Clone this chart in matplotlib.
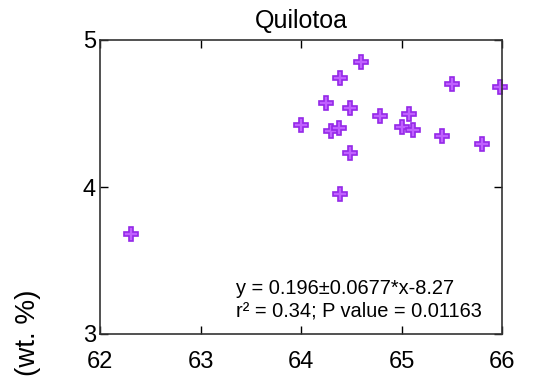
import matplotlib.pyplot as plt

plt.rcParams['font.family'] = ['Liberation Sans', 'DejaVu Sans']

# SiO2 vs K2O, Quilotoa samples
sio2 = [62.31, 64.0, 64.25, 64.30, 64.38, 64.39, 64.49, 64.49, 64.60, 64.79,
        65.0, 65.07, 65.11, 65.40, 65.50, 65.80, 65.98, 64.39]
k2o = [3.68, 4.42, 4.57, 4.38, 4.40, 4.74, 4.54, 4.23, 4.85, 4.48,
       4.41, 4.50, 4.39, 4.35, 4.70, 4.29, 4.68, 3.95]

xticks = [62, 63, 64, 65, 66]
yticks = [3, 4, 5]

fig = plt.figure(figsize=(5.47, 3.79), dpi=100)
ax = fig.add_axes([100/547, 1-334/379, 402/547, 294/379])

ax.plot(sio2, k2o, 'P', markersize=10.5, markerfacecolor='#c060ff',
        markeredgecolor='#9428e8', markeredgewidth=1.2, clip_on=False)

ax.set_xlim(62, 66)
ax.set_ylim(3, 5)
ax.set_xticks(xticks)
ax.set_yticks(yticks)
ax.tick_params(direction='in', top=True, right=True, labelsize=17,
               length=6, width=1)
ax.tick_params(axis='x', pad=12.5)
ax.tick_params(axis='y', pad=3)
for s in ax.spines.values():
    s.set_linewidth(1.2)
    s.set_color('#333333')

ax.text(0.5, 1.041, 'Quilotoa', transform=ax.transAxes, fontsize=18,
        ha='center', va='baseline')

# fit stats
ax.text(0.338, 0.135, 'y = 0.196\u00b10.0677*x-8.27', transform=ax.transAxes,
        fontsize=14.4, va='baseline')
ax.text(0.338, 0.061, 'r\u00b2 = 0.34; P value = 0.01163', transform=ax.transAxes,
        fontsize=14.4, va='baseline')

fig.text(28/547, 1-333/379, '(wt. %)', rotation=90, fontsize=20,
         ha='center', va='center')

plt.savefig('out.png', dpi=100)
